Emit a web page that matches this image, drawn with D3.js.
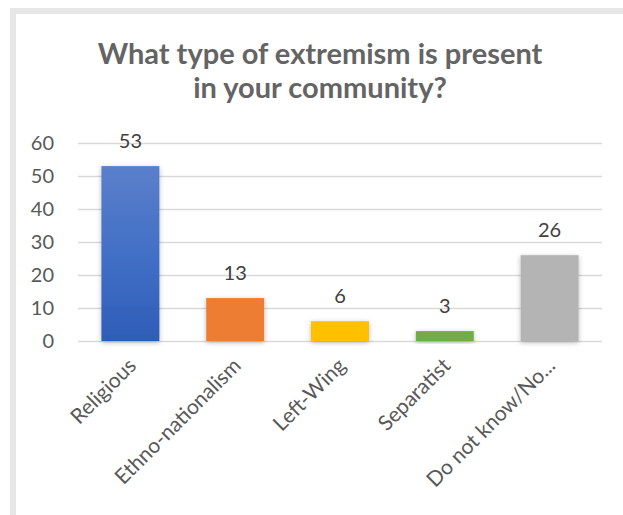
<!DOCTYPE html>
<html>
<head>
<meta charset="utf-8">
<script src="https://cdn.jsdelivr.net/npm/d3@7"></script>
<style>
  html, body { margin: 0; padding: 0; background: #ffffff; }
  svg { display: block; }
</style>
</head>
<body>
<svg id="chart" width="623" height="515"></svg>
<script>
// ---- data ----
const titleLines = ["What type of extremism is present", "in your community?"];
const categories = ["Religious", "Ethno-nationalism", "Left-Wing", "Separatist", "Do not know/No..."];
const values = [53, 13, 6, 3, 26];
const barColors = ["#4472C4", "#ED7D31", "#FFC000", "#70AD47", "#B4B4B4"];
const yTicks = [0, 10, 20, 30, 40, 50, 60];

// ---- layout ----
const W = 623, H = 515;
const svg = d3.select("#chart");
const font = "Lato, 'Open Sans', sans-serif";

// frame
svg.append("rect").attr("x", 10).attr("y", 8).attr("width", W).attr("height", H).attr("fill", "#e6e6e6");
svg.append("rect").attr("x", 16).attr("y", 14).attr("width", W).attr("height", H).attr("fill", "#ffffff");

const defs = svg.append("defs");
const grad = defs.append("linearGradient").attr("id", "blueGrad").attr("x1", 0).attr("y1", 0).attr("x2", 0).attr("y2", 1);
grad.append("stop").attr("offset", "0%").attr("stop-color", "#5B7FCB");
grad.append("stop").attr("offset", "50%").attr("stop-color", "#4270C6");
grad.append("stop").attr("offset", "100%").attr("stop-color", "#2E5DB7");

const filt = defs.append("filter").attr("id", "shadow").attr("x", "-30%").attr("y", "-30%").attr("width", "160%").attr("height", "160%");
filt.append("feDropShadow").attr("dx", 0).attr("dy", 1.5).attr("stdDeviation", 2.5)
  .attr("flood-color", "#000").attr("flood-opacity", 0.28);

// title
const title = svg.append("text")
  .attr("x", 320).attr("text-anchor", "middle")
  .attr("font-family", font).attr("font-weight", "bold").attr("font-size", 29)
  .attr("fill", "#646464");
titleLines.forEach((t, i) => {
  title.append("tspan").attr("x", 320).attr("y", 64 + i * 34).text(t);
});

// scales
const x = d3.scaleBand().domain(categories).range([78, 602]).paddingInner(0.447).paddingOuter(0.2235);
const y = d3.scaleLinear().domain([0, 60]).range([341, 143]);

// gridlines
const yAxis = d3.axisLeft(y).tickValues(yTicks).tickSize(-(602 - 78)).tickPadding(24).tickFormat(d3.format("d"));
const gy = svg.append("g").attr("transform", "translate(78,0)").call(yAxis);
gy.select(".domain").remove();
gy.selectAll(".tick line").attr("stroke", "#d9d9d9").attr("stroke-width", 1.3);
gy.selectAll(".tick text")
  .attr("font-family", font).attr("font-size", 20).attr("fill", "#595959");

// bars
svg.append("g").selectAll("rect").data(values).join("rect")
  .attr("x", (d, i) => x(categories[i]))
  .attr("y", d => y(d))
  .attr("width", x.bandwidth())
  .attr("height", d => y(0) - y(d))
  .attr("fill", (d, i) => i === 0 ? "url(#blueGrad)" : barColors[i])
  .attr("filter", "url(#shadow)");

// data labels
svg.append("g").selectAll("text").data(values).join("text")
  .attr("x", (d, i) => x(categories[i]) + x.bandwidth() / 2)
  .attr("y", d => y(d) - 18)
  .attr("text-anchor", "middle")
  .attr("font-family", font).attr("font-size", 20).attr("fill", "#404040")
  .text(d => d);

// x axis
const xAxis = d3.axisBottom(x).tickSize(0).tickPadding(0);
const gx = svg.append("g").attr("transform", "translate(0,341)").call(xAxis);
gx.select(".domain").remove();
gx.selectAll(".tick text")
  .attr("font-family", font).attr("font-size", 21).attr("fill", "#595959")
  .attr("text-anchor", "end")
  .attr("transform", "translate(7,26) rotate(-45)")
  .attr("dy", 0).attr("y", 0);
</script>
</body>
</html>
